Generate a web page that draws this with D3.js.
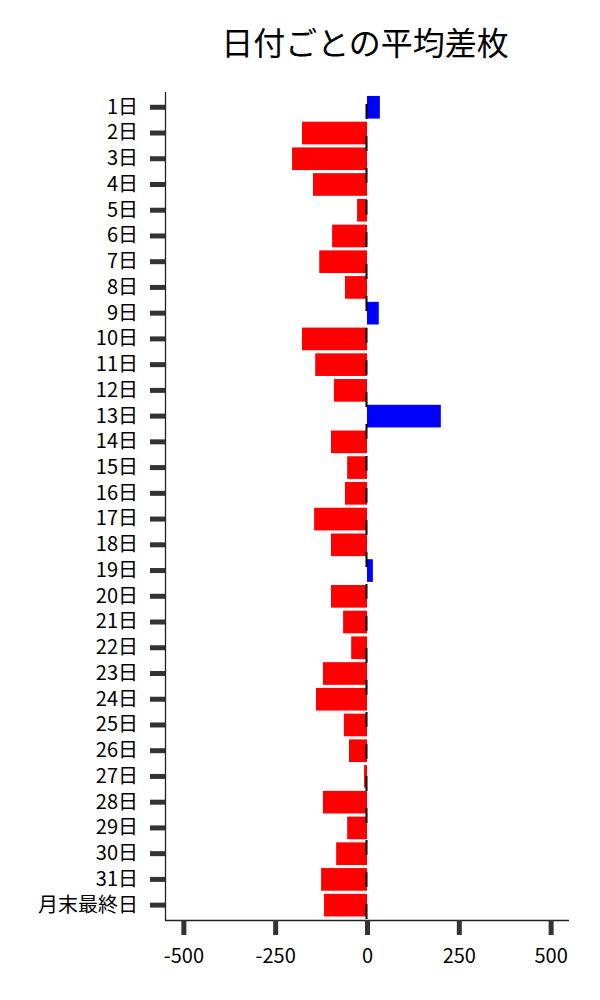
<!DOCTYPE html>
<html>
<head>
<meta charset="utf-8">
<script src="https://cdn.jsdelivr.net/npm/d3@7"></script>
<style>
  html, body { margin: 0; padding: 0; background: #fff; }
  svg { display: block; }
  text { font-family: "Noto Sans CJK JP", "Noto Sans", sans-serif; }
</style>
</head>
<body>
<svg id="chart" width="600" height="1000"></svg>
<script>
const title = "日付ごとの平均差枚";
const categories = ["1日","2日","3日","4日","5日","6日","7日","8日","9日","10日",
  "11日","12日","13日","14日","15日","16日","17日","18日","19日","20日",
  "21日","22日","23日","24日","25日","26日","27日","28日","29日","30日",
  "31日","月末最終日"];
const values = [35, -177, -204, -147, -27, -95, -130, -60, 32, -177,
  -141, -90, 201, -98, -54, -60, -144, -98, 16, -98,
  -65, -43, -120, -139, -63, -49, -8, -120, -54, -84,
  -125, -117];
const xTicks = [-500, -250, 0, 250, 500];
const xDomain = [-550, 550];

const svg = d3.select("#chart");
const mLeft = 165, mRight = 569, mTop = 92, mBottom = 920;
const bandTop = 94.4, bandBottom = 918;

const x = d3.scaleLinear().domain(xDomain).range([mLeft, mRight]);
const y = d3.scaleBand().domain(categories).range([bandTop, bandBottom])
  .paddingInner(0.12).paddingOuter(0.06);

// bars
svg.append("g").selectAll("rect").data(values).join("rect")
  .attr("x", d => x(Math.min(0, d)))
  .attr("y", (d, i) => y(categories[i]))
  .attr("width", d => Math.abs(x(d) - x(0)))
  .attr("height", y.bandwidth())
  .attr("fill", d => d >= 0 ? "#0000ff" : "#ff0000");

// dashed zero line
svg.append("line")
  .attr("x1", x(0) - 0.5).attr("x2", x(0) - 0.5)
  .attr("y1", 104).attr("y2", mBottom)
  .attr("stroke", "#000").attr("stroke-width", 2)
  .attr("stroke-dasharray", "15,17");

// y axis
const yAxis = svg.append("g").attr("transform", `translate(${mLeft},0)`)
  .call(d3.axisLeft(y).tickSize(15).tickPadding(12));
yAxis.select(".domain").attr("stroke", "#222").attr("stroke-width", 1.3)
  .attr("d", `M0.5,${mTop}V${mBottom}`);
yAxis.selectAll(".tick line").attr("stroke", "#333").attr("stroke-width", 5);
yAxis.selectAll(".tick text").attr("font-size", 20).attr("fill", "#000")
  .attr("font-family", "'Noto Sans CJK JP', sans-serif");

// x axis
const xAxis = svg.append("g").attr("transform", `translate(0,${mBottom})`)
  .call(d3.axisBottom(x).tickValues(xTicks).tickSize(15).tickPadding(14)
    .tickFormat(d => String(d)));
xAxis.select(".domain").attr("stroke", "#222").attr("stroke-width", 1.3)
  .attr("d", `M${mLeft},0.5H${mRight}`);
xAxis.selectAll(".tick line").attr("stroke", "#333").attr("stroke-width", 5);
xAxis.selectAll(".tick text").attr("font-size", 20).attr("fill", "#000")
  .attr("font-family", "'Noto Sans CJK JP', sans-serif");

// title
svg.append("text")
  .attr("x", (mLeft + mRight) / 2 - 2).attr("y", 55)
  .attr("text-anchor", "middle")
  .attr("font-size", 32).attr("fill", "#000")
  .text(title);
</script>
</body>
</html>
